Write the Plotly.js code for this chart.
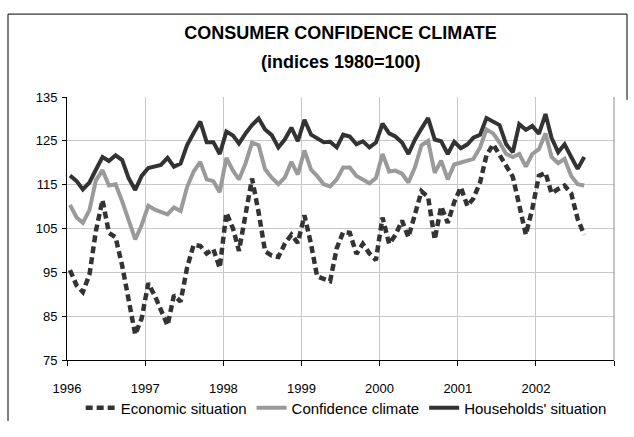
<!DOCTYPE html>
<html>
<head>
<meta charset="utf-8">
<script src="https://cdn.plot.ly/plotly-3.0.1.min.js"></script>
<style>
  html, body { margin: 0; padding: 0; background: #ffffff; }
  #chart { width: 634px; height: 437px; }
</style>
</head>
<body>
<div id="chart"></div>
<script>
// Monthly series, Jan 1996 – Aug 2002 (indices 1980=100)
const economicSituation = [
  95.5, 92.0, 90.5, 94.5, 104.4, 111.5, 104.0, 103.0, 96.5, 88.5, 80.8, 84.5,
  92.5, 89.6, 86.2, 82.9, 89.8, 88.3, 96.0, 101.3, 101.0, 99.3, 100.3, 96.0,
  108.6, 105.0, 99.9, 108.0, 116.4, 108.6, 99.8, 98.8, 98.5, 101.5, 103.6, 101.7,
  108.0, 101.4, 94.1, 93.5, 93.0, 100.5, 104.2, 104.0, 99.2, 101.5, 99.3, 97.8,
  107.5, 101.5, 103.5, 106.8, 103.0, 108.3, 113.5, 112.2, 102.5, 110.0, 106.3, 111.0,
  114.4, 110.1, 111.9, 115.5, 121.7, 124.2, 122.0, 119.3, 116.8, 110.5, 103.6, 109.5,
  117.0, 117.7, 113.0, 114.0, 114.8, 113.0, 107.2, 103.6
];
const confidenceClimate = [
  110.4, 107.5, 106.3, 109.2, 116.0, 118.3, 114.8, 115.1, 111.2, 106.8, 102.5, 105.8,
  110.2, 109.3, 108.8, 108.2, 109.8, 109.0, 114.4, 118.0, 120.2, 116.2, 115.8, 113.3,
  121.1, 118.2, 116.2, 119.9, 124.6, 124.0, 118.5, 116.6, 115.1, 116.6, 120.2, 117.3,
  122.8, 118.4, 117.0, 115.1, 114.6, 116.2, 118.9, 118.9, 117.0, 116.2, 115.3, 116.5,
  122.0, 118.0, 118.2, 117.5, 115.5, 119.0, 124.0, 125.0, 117.7, 120.5, 116.2, 119.6,
  120.0, 120.6, 120.9, 123.5, 127.6, 126.7, 124.6, 122.0, 121.3, 122.0, 119.1, 122.0,
  123.1, 126.7, 121.3, 119.9, 120.9, 117.0, 115.1, 114.8
];
const householdsSituation = [
  117.1, 115.8, 113.9, 115.5, 118.4, 121.3, 120.4, 121.7, 120.6, 116.5, 113.8, 117.0,
  118.8, 119.2, 119.5, 121.1, 119.1, 119.8, 124.0, 126.8, 129.4, 124.7, 124.7, 122.0,
  127.1, 126.2, 124.4, 126.7, 128.6, 130.1, 127.6, 126.3, 123.5, 125.3, 128.0, 124.9,
  129.8, 126.4, 125.7, 124.7, 124.8, 123.5, 126.4, 126.0, 124.2, 124.9, 123.5, 124.6,
  128.9, 126.7, 126.0, 124.6, 122.0, 125.3, 127.8, 130.2, 125.3, 124.9, 122.0, 124.8,
  123.3, 124.2, 125.7, 126.4, 130.2, 129.3, 128.6, 124.2, 122.4, 128.8, 127.5, 128.4,
  126.6, 131.1, 125.7, 122.4, 124.2, 121.3, 118.6, 121.3
];
const startYear = 1996;
const yearLabels = ['1996', '1997', '1998', '1999', '2000', '2001', '2002', ''];
const yTicks = [75, 85, 95, 105, 115, 125, 135];
const seriesNames = ['Economic situation', 'Confidence climate', "Households' situation"];

// month dates (mid-month)
const dates = economicSituation.map((_, i) => {
  const y = startYear + Math.floor(i / 12);
  const m = (i % 12) + 1;
  return y + '-' + String(m).padStart(2, '0') + '-15';
});
const yearTickVals = yearLabels.map((_, i) => (startYear + i) + '-01-01');

const FONT = 'Liberation Sans, Arial, sans-serif';

const traces = [
  {
    x: dates, y: economicSituation, name: seriesNames[0], type: 'scatter', mode: 'lines',
    line: { color: '#333333', width: 4.5, dash: '7px,4px' }
  },
  {
    x: dates, y: confidenceClimate, name: seriesNames[1], type: 'scatter', mode: 'lines',
    line: { color: '#9a9a9a', width: 4 }
  },
  {
    x: dates, y: householdsSituation, name: seriesNames[2], type: 'scatter', mode: 'lines',
    line: { color: '#333333', width: 4 }
  }
];

const layout = {
  width: 634, height: 437,
  margin: { l: 67, r: 20, t: 97, b: 64 },
  paper_bgcolor: '#ffffff', plot_bgcolor: '#ffffff',
  font: { family: FONT, color: '#000000', size: 13 },
  title: {
    text: '<b>CONSUMER CONFIDENCE CLIMATE</b>',
    font: { family: FONT, size: 18, color: '#000000' },
    x: 0.5, xref: 'paper', xanchor: 'center',
    y: 1 - 33 / 437, yref: 'container', yanchor: 'middle'
  },
  annotations: [{
    text: '<b>(indices 1980=100)</b>',
    font: { family: FONT, size: 18, color: '#000000' },
    xref: 'paper', yref: 'paper', x: 0.5, y: (373 - 60) / 276,
    xanchor: 'center', yanchor: 'middle', showarrow: false
  }],
  showlegend: true,
  legend: {
    orientation: 'h', x: 0.025, xanchor: 'left', y: -0.12, yanchor: 'top',
    font: { family: FONT, size: 15, color: '#000000' },
    bgcolor: 'rgba(0,0,0,0)', traceorder: 'normal'
  },
  xaxis: {
    type: 'date',
    range: [yearTickVals[0], yearTickVals[yearTickVals.length - 1]],
    tickmode: 'array', tickvals: yearTickVals, ticktext: yearLabels,
    showgrid: true, gridcolor: '#c8c8c8', gridwidth: 1,
    showline: true, linecolor: '#000000', linewidth: 1,
    ticks: 'outside', ticklen: 5, tickcolor: '#000000', tickwidth: 1,
    ticklabelstandoff: 11,
    tickfont: { family: FONT, size: 13, color: '#000000' },
    zeroline: false, fixedrange: true
  },
  yaxis: {
    range: [75, 135], tickmode: 'array', tickvals: yTicks,
    showgrid: true, gridcolor: '#c8c8c8', gridwidth: 1,
    showline: true, linecolor: '#000000', linewidth: 1,
    ticks: 'outside', ticklen: 4, tickcolor: '#000000', tickwidth: 1,
    ticklabelstandoff: 2,
    tickfont: { family: FONT, size: 13, color: '#000000' },
    zeroline: false, fixedrange: true
  },
  shapes: [
    // right edge of plot area
    { type: 'line', xref: 'paper', yref: 'paper', x0: 1, x1: 1, y0: 0, y1: 1,
      line: { color: '#8c8c8c', width: 1 } },
    // outer frame (left, top, right part)
    { type: 'line', xref: 'paper', yref: 'paper', x0: (8 - 67) / 547, x1: (8 - 67) / 547,
      y0: (373 - 10) / 276, y1: (373 - 437) / 276, line: { color: '#000000', width: 1 } },
    { type: 'line', xref: 'paper', yref: 'paper', x0: (8 - 67) / 547, x1: (627 - 67) / 547,
      y0: (373 - 10) / 276, y1: (373 - 10) / 276, line: { color: '#000000', width: 1 } },
    { type: 'line', xref: 'paper', yref: 'paper', x0: (627 - 67) / 547, x1: (627 - 67) / 547,
      y0: (373 - 10) / 276, y1: (373 - 100) / 276, line: { color: '#000000', width: 1 } }
  ]
};

Plotly.newPlot('chart', traces, layout, { displayModeBar: false, staticPlot: true });
</script>
</body>
</html>
